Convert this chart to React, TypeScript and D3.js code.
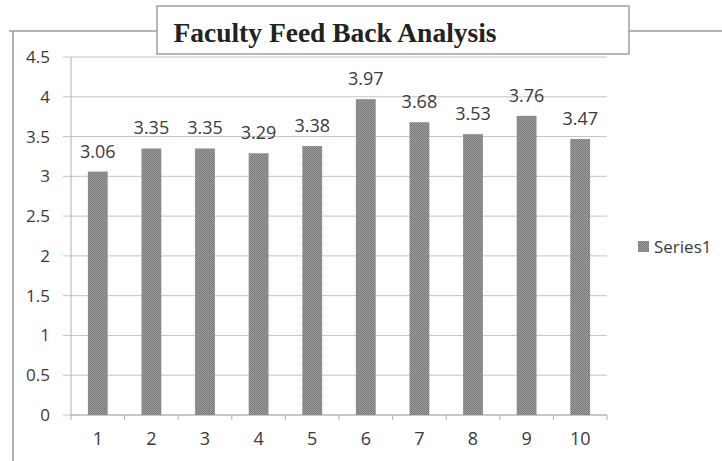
import React from "react";
import * as d3 from "d3";

const categories = ["1", "2", "3", "4", "5", "6", "7", "8", "9", "10"];
const series1 = [3.06, 3.35, 3.35, 3.29, 3.38, 3.97, 3.68, 3.53, 3.76, 3.47];
const yTicks = [0, 0.5, 1, 1.5, 2, 2.5, 3, 3.5, 4, 4.5];
const seriesName = "Series1";
const title = "Faculty Feed Back Analysis";

export default function App() {
  const W = 722, H = 461;
  const x0 = 71, x1 = 607, yTop = 57, yBot = 415;
  const x = d3.scaleBand<string>().domain(categories).range([x0, x1]).paddingInner(0.63).paddingOuter(0.315);
  const xb = d3.scaleBand<string>().domain(categories).range([x0, x1]);
  const y = d3.scaleLinear().domain([0, 4.5]).range([yBot, yTop]);
  const font = "'Open Sans', Lato, sans-serif";
  return (
    <svg width={W} height={H} style={{ position: "absolute", left: 0, top: 0, background: "#fff" }}>
      <defs>
        <pattern id="dots" width="2" height="2" patternUnits="userSpaceOnUse">
          <rect width="2" height="2" fill="#9a9a9a" />
          <rect width="1" height="1" fill="#7a7a7a" />
          <rect x="1" y="1" width="1" height="1" fill="#7e7e7e" />
        </pattern>
      </defs>
      {/* outer chart border */}
      <path d={`M9,31 H722 M13,31 V461`} stroke="#9a9a9a" strokeWidth={1.5} fill="none" />
      {/* gridlines */}
      {yTicks.map((t) => (
        <line key={t} x1={63} x2={x1} y1={y(t)} y2={y(t)} stroke="#c4c4c4" strokeWidth={1} />
      ))}
      {/* y axis */}
      <line x1={x0} x2={x0} y1={yTop} y2={yBot} stroke="#b0b0b0" />
      {/* x axis */}
      <line x1={x0} x2={x1} y1={yBot} y2={yBot} stroke="#b0b0b0" />
      {categories.map((c) => (
        <line key={c} x1={xb(c)!} x2={xb(c)!} y1={yBot} y2={yBot + 5} stroke="#b0b0b0" />
      ))}
      <line x1={x1} x2={x1} y1={yBot} y2={yBot + 5} stroke="#b0b0b0" />
      {/* y labels */}
      {yTicks.map((t) => (
        <text key={t} x={50} y={y(t) + 6} textAnchor="end" fontFamily={font} fontSize={17} fill="#3a3a3a">
          {String(t)}
        </text>
      ))}
      {/* bars */}
      {series1.map((v, i) => (
        <rect key={i} x={x(categories[i])!} y={y(v)} width={x.bandwidth()} height={yBot - y(v)} fill="url(#dots)" />
      ))}
      {/* value labels */}
      {series1.map((v, i) => (
        <text key={i} x={x(categories[i])! + x.bandwidth() / 2} y={y(v) - 14} textAnchor="middle" fontFamily={font} fontSize={18} fill="#3a3a3a">
          {v.toFixed(2)}
        </text>
      ))}
      {/* x labels */}
      {categories.map((c) => (
        <text key={c} x={xb(c)! + xb.bandwidth() / 2} y={445} textAnchor="middle" fontFamily={font} fontSize={18} fill="#3a3a3a">
          {c}
        </text>
      ))}
      {/* legend */}
      <rect x={638} y={241} width={11} height={11} fill="url(#dots)" />
      <text x={654} y={253} fontFamily={font} fontSize={17} fill="#3a3a3a">{seriesName}</text>
      {/* title box */}
      <rect x={157} y={6} width={472} height={48} fill="#fff" stroke="#a0a0a0" strokeWidth={1.5} />
      <text x={335} y={42} textAnchor="middle" fontFamily="'Liberation Serif', 'Times New Roman', serif" fontWeight="bold" fontSize={27.5} fill="#222">
        {title}
      </text>
    </svg>
  );
}
